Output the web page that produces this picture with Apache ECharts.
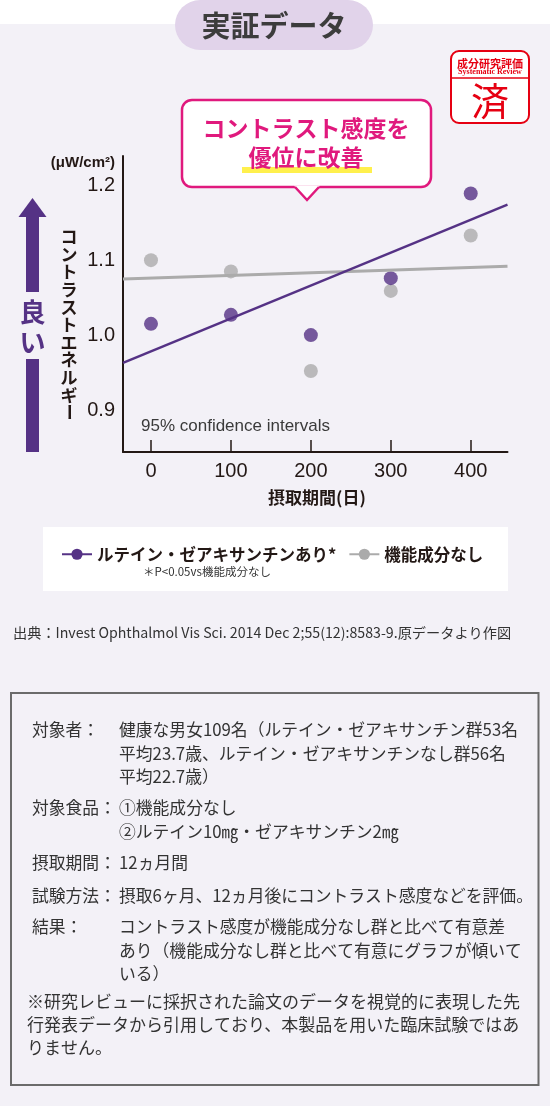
<!DOCTYPE html>
<html>
<head>
<meta charset="utf-8">
<script src="https://cdn.jsdelivr.net/npm/echarts@6/dist/echarts.min.js"></script>
<style>
html,body{margin:0;padding:0;background:#f3f1f7;}
#c{width:550px;height:1106px;}
</style>
</head>
<body>
<div id="c"></div>
<script>
// ---- data ----
const days = [0, 100, 200, 300, 400];
const luteinValues = [1.016, 1.028, 1.001, 1.077, 1.190];
const controlValues = [1.101, 1.086, 0.953, 1.060, 1.134];
const trendDays = [-35, 446];
const luteinTrend = [0.964, 1.175];
const controlTrend = [1.076, 1.093];
const xTickValues = [0, 100, 200, 300, 400];
const yTickValues = [0.9, 1.0, 1.1, 1.2];
const seriesNames = ['ルテイン・ゼアキサンチンあり*', '機能成分なし'];
const yAxisTitleChars = ['コ','ン','ト','ラ','ス','ト','エ','ネ','ル','ギ'];
const infoRows = [
  {label: '対象者：', lines: ['健康な男女109名（ルテイン・ゼアキサンチン群53名', '平均23.7歳、ルテイン・ゼアキサンチンなし群56名', '平均22.7歳）'], y: 730},
  {label: '対象食品：', lines: ['①機能成分なし', '②ルテイン10㎎・ゼアキサンチン2㎎'], y: 808},
  {label: '摂取期間：', lines: ['12ヵ月間'], y: 863},
  {label: '試験方法：', lines: ['摂取6ヶ月、12ヵ月後にコントラスト感度などを評価。'], y: 896},
  {label: '結果：', lines: ['コントラスト感度が機能成分なし群と比べて有意差', 'あり（機能成分なし群と比べて有意にグラフが傾いて', 'いる）'], y: 927}
];
const noteLines = ['※研究レビューに採択された論文のデータを視覚的に表現した先', '行発表データから引用しており、本製品を用いた臨床試験ではあ', 'りません。'];

const PURPLE = '#553285';
const GRAY = '#ababab';
const MAGENTA = '#e0197d';
const INK = '#231815';
const JP = '"Noto Sans CJK JP"';
const LAT = '"Liberation Sans", Arial, sans-serif';
const BODY = '16.8px ' + JP;

function T(text, x, y, font, fill, align, vAlign, extra) {
  const el = {type: 'text', x: x, y: y, z: 100,
    style: {text: text, font: font, fill: fill || INK, align: align || 'left', verticalAlign: vAlign || 'middle'}};
  if (extra) Object.assign(el, extra);
  return el;
}

const graphics = [];
// white top strip
graphics.push({type: 'rect', z: 0, shape: {x: 0, y: 0, width: 550, height: 24}, style: {fill: '#ffffff'}});
// title pill
graphics.push({type: 'rect', z: 1, shape: {x: 175, y: 0, width: 198, height: 50, r: 25}, style: {fill: '#e1d3ea'}});
graphics.push(T('実証データ', 274, 26, 'bold 29px ' + JP, '#3c3c3c', 'center'));
// stamp
graphics.push({type: 'rect', z: 1, shape: {x: 451, y: 51, width: 78, height: 72, r: 8}, style: {fill: '#ffffff', stroke: '#e60012', lineWidth: 2}});
graphics.push({type: 'line', z: 2, shape: {x1: 451, y1: 78, x2: 529, y2: 78}, style: {stroke: '#e60012', lineWidth: 1.5}});
graphics.push(T('成分研究評価', 490, 63.5, 'bold 11px ' + JP, '#e60012', 'center'));
graphics.push(T('Systematic Review', 490, 72, 'bold 8px "Liberation Serif", serif', '#e60012', 'center'));
graphics.push(T('済', 490, 101, '38px ' + JP, '#e60012', 'center'));
// callout
graphics.push({type: 'rect', z: 50, shape: {x: 182, y: 100, width: 249, height: 87, r: 10}, style: {fill: '#ffffff', stroke: MAGENTA, lineWidth: 2.5}});
graphics.push({type: 'polygon', z: 51, shape: {points: [[294, 185.5], [307, 200], [320, 185.5]]}, style: {fill: '#ffffff'}});
graphics.push({type: 'polyline', z: 52, shape: {points: [[295, 187], [307, 200], [319, 187]]}, style: {stroke: MAGENTA, lineWidth: 2.5, fill: 'none'}});
graphics.push({type: 'rect', z: 60, shape: {x: 242, y: 167, width: 130, height: 6}, style: {fill: '#fff04d'}});
graphics.push(T('コントラスト感度を', 306, 128, 'bold 23px ' + JP, MAGENTA, 'center'));
graphics.push(T('優位に改善', 306, 157, 'bold 23px ' + JP, MAGENTA, 'center'));
// unit label
graphics.push(T('(μW/cm²)', 115, 163, 'bold 15px ' + LAT, INK, 'right'));
// "better" arrow
graphics.push({type: 'polygon', z: 10, shape: {points: [[32.5, 198], [18.5, 217], [46.5, 217]]}, style: {fill: PURPLE}});
graphics.push({type: 'rect', z: 10, shape: {x: 26, y: 216, width: 13, height: 76}, style: {fill: PURPLE}});
graphics.push({type: 'rect', z: 10, shape: {x: 26, y: 359, width: 13, height: 93}, style: {fill: PURPLE}});
graphics.push(T('良', 32.5, 312, 'bold 26px ' + JP, PURPLE, 'center'));
graphics.push(T('い', 32.5, 342, 'bold 26px ' + JP, PURPLE, 'center'));
// y axis title (vertical)
graphics.push({type: 'text', x: 69, y: 228, z: 100, style: {text: yAxisTitleChars.join('\n'), font: 'bold 17px ' + JP, fill: INK, align: 'center', verticalAlign: 'top', lineHeight: 17.6}});
graphics.push({type: 'text', x: 69, y: 412, z: 100, rotation: -Math.PI / 2, style: {text: 'ー', font: 'bold 17px ' + JP, fill: INK, align: 'center', verticalAlign: 'middle'}});
// confidence text
graphics.push(T('95% confidence intervals', 141, 426, '17px ' + LAT, '#3a3a3a', 'left'));
// x axis title
graphics.push(T('摂取期間(日)', 317, 498, 'bold 17px ' + JP, INK, 'center'));
// legend box
graphics.push({type: 'rect', z: 0, shape: {x: 43, y: 527, width: 465, height: 64}, style: {fill: '#ffffff'}});
graphics.push(T('＊P<0.05vs機能成分なし', 143, 572, '11.5px ' + JP, '#333333', 'left'));
// source
graphics.push(T('出典：Invest Ophthalmol Vis Sci. 2014 Dec 2;55(12):8583-9.原データより作図', 13, 633, '14.2px ' + JP, '#333333', 'left'));
// info box
graphics.push({type: 'rect', z: 1, shape: {x: 11, y: 693, width: 527.5, height: 392}, style: {fill: 'none', stroke: '#6b6b6b', lineWidth: 2}});
infoRows.forEach(function (row) {
  graphics.push(T(row.label, 32, row.y, BODY, '#333333', 'left'));
  row.lines.forEach(function (ln, i) {
    graphics.push(T(ln, 119, row.y + i * 23.5, BODY, '#333333', 'left'));
  });
});
noteLines.forEach(function (ln, i) {
  graphics.push(T(ln, 27, 1002 + i * 23, '17px ' + JP, '#333333', 'left'));
});

const chart = echarts.init(document.getElementById('c'), null, {renderer: 'canvas'});
chart.setOption({
  animation: false,
  backgroundColor: '#f3f1f7',
  grid: {left: 123, right: 42.5, top: 156, bottom: 654, containLabel: false},
  legend: {
    left: 56, top: 541, itemWidth: 30, itemHeight: 14, itemGap: 12, selectedMode: false,
    data: seriesNames,
    textStyle: {fontSize: 16.5, fontWeight: 'bold', color: INK, fontFamily: 'Noto Sans CJK JP'}
  },
  xAxis: {
    type: 'value', min: trendDays[0], max: trendDays[1],
    splitLine: {show: false},
    axisLine: {onZero: false, lineStyle: {color: INK, width: 2}},
    axisTick: {show: true, inside: true, length: 12, customValues: xTickValues, lineStyle: {color: INK, width: 1.5}},
    axisLabel: {customValues: xTickValues, fontSize: 20, color: INK, margin: 9, fontFamily: 'Liberation Sans, Arial, sans-serif'}
  },
  yAxis: {
    type: 'value', min: 0.845, max: 1.24,
    splitLine: {show: false},
    axisLine: {show: true, onZero: false, lineStyle: {color: INK, width: 2}},
    axisTick: {show: false},
    axisLabel: {customValues: yTickValues, formatter: function (v) { return v.toFixed(1); }, fontSize: 20, color: INK, margin: 8, fontFamily: 'Liberation Sans, Arial, sans-serif'}
  },
  graphic: graphics,
  series: [
    {name: seriesNames[1], type: 'line', symbol: 'circle', symbolSize: 10, showSymbol: false, color: GRAY,
      lineStyle: {color: GRAY, width: 3}, data: trendDays.map(function (d, i) { return [d, controlTrend[i]]; })},
    {name: seriesNames[0], type: 'line', symbol: 'circle', symbolSize: 10, showSymbol: false, color: PURPLE,
      lineStyle: {color: PURPLE, width: 2.5}, data: trendDays.map(function (d, i) { return [d, luteinTrend[i]]; })},
    {name: seriesNames[1], type: 'scatter', symbolSize: 14, itemStyle: {color: GRAY},
      data: days.map(function (d, i) { return [d, controlValues[i]]; })},
    {name: seriesNames[0], type: 'scatter', symbolSize: 14, itemStyle: {color: PURPLE},
      data: days.map(function (d, i) { return [d, luteinValues[i]]; })}
  ]
});
</script>
</body>
</html>
